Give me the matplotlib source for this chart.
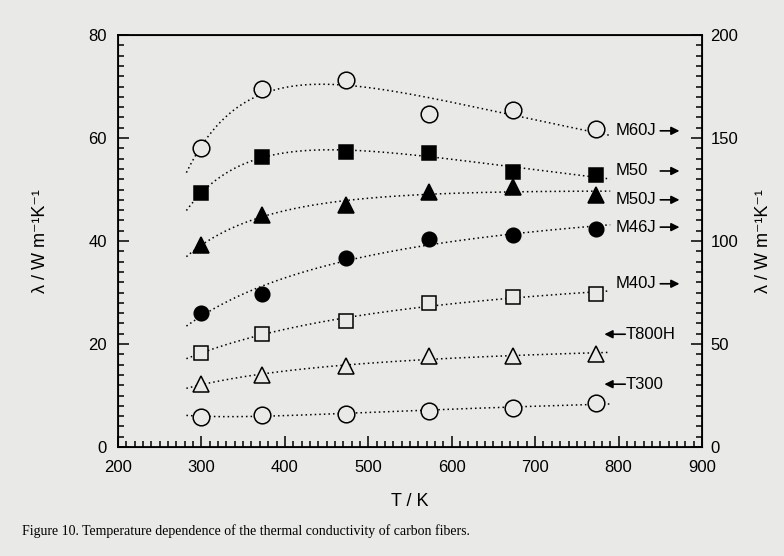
import numpy as np
import matplotlib.pyplot as plt
from matplotlib.ticker import MultipleLocator

plt.rcParams['font.family'] = ['Liberation Sans', 'DejaVu Sans']

T = np.array([300, 373, 473, 573, 673, 773])

names = ["M60J", "M50", "M50J", "M46J", "M40J", "T800H", "T300"]
m60j = [58.0, 69.5, 71.3, 64.7, 65.4, 61.7]
m50 = [49.3, 56.4, 57.3, 57.1, 53.5, 52.8]
m50j = [39.2, 45.0, 46.9, 49.6, 50.5, 48.9]
m46j = [26.0, 29.7, 36.8, 40.4, 41.2, 42.3]
m40j = [18.3, 21.9, 24.5, 28.0, 29.1, 29.8]
t800h = [12.2, 14.0, 15.7, 17.6, 17.7, 18.1]
t300 = [5.9, 6.2, 6.5, 7.05, 7.6, 8.5]
series = [m60j, m50, m50j, m46j, m40j, t800h, t300]

# label positions (y in left-axis units) and arrow direction
label_y = [61.4, 53.6, 48.0, 42.7, 31.7, 21.9, 12.2]
label_right = [True, True, True, True, True, False, False]

caption = "Figure 10. Temperature dependence of the thermal conductivity of carbon fibers."

bg = '#e9e9e7'
styles = [
    dict(marker='o', mfc=bg, ms=12),
    dict(marker='s', mfc='black', ms=9.5),
    dict(marker='^', mfc='black', ms=11.5),
    dict(marker='o', mfc='black', ms=10.5),
    dict(marker='s', mfc=bg, ms=10.5),
    dict(marker='^', mfc=bg, ms=12),
    dict(marker='o', mfc=bg, ms=12),
]

fig = plt.figure(figsize=(7.84, 5.56), dpi=100, facecolor=bg)
ax = fig.add_axes([0.1505, 0.196, 0.7449, 0.741], facecolor=bg)

# smooth fitted curves: quadratic in 1/T
xs = np.linspace(282, 790, 200)
for vals, st in zip(series, styles):
    c = np.polyfit(1.0 / T, vals, 2)
    ax.plot(xs, np.polyval(c, 1.0 / xs), color='black', lw=1.1, ls=(0, (1, 2)), zorder=2)
    ax.plot(T, vals, ls='none', mec='black', mew=1.1, zorder=3, **st)

arrow = dict(arrowstyle='-|>', color='black', lw=1.2, mutation_scale=12, shrinkA=0, shrinkB=0)
for name, y, right in zip(names, label_y, label_right):
    if right:
        ax.text(797, y, name, fontsize=12, va='center', ha='left')
        ax.annotate('', xy=(873, y), xytext=(850, y), arrowprops=arrow)
    else:
        ax.text(809, y, name, fontsize=12, va='center', ha='left')
        ax.annotate('', xy=(783, y), xytext=(808, y), arrowprops=arrow)

ax.set_xlim(200, 900)
ax.set_ylim(0, 80)
ax.xaxis.set_major_locator(MultipleLocator(100))
ax.xaxis.set_minor_locator(MultipleLocator(10))
ax.yaxis.set_major_locator(MultipleLocator(20))
ax.yaxis.set_minor_locator(MultipleLocator(2))
ax.tick_params(which='both', direction='in', top=False, right=False, labelsize=12, width=1.1)
ax.tick_params(which='major', length=8)
ax.tick_params(which='minor', length=4)
ax.tick_params(axis='x', which='major', pad=9)
ax.tick_params(axis='y', which='major', pad=8)
for s in ax.spines.values():
    s.set_linewidth(1.3)

ax2 = ax.twinx()
ax2.set_ylim(0, 200)
ax2.yaxis.set_major_locator(MultipleLocator(50))
ax2.yaxis.set_minor_locator(MultipleLocator(5))
ax2.tick_params(which='both', direction='in', labelsize=12, width=1.1)
ax2.tick_params(which='major', length=8, pad=6)
ax2.tick_params(which='minor', length=4)

ax.set_xlabel("T / K", fontsize=13, labelpad=13)
ax.set_ylabel("λ / W m⁻¹K⁻¹", fontsize=13, labelpad=28)
ax2.set_ylabel("λ / W m⁻¹K⁻¹", fontsize=13, labelpad=12)

fig.text(0.028, 0.045, caption, fontsize=10, family='Liberation Serif', ha='left', va='center')

fig.savefig('out.png', dpi=100, facecolor=bg)
